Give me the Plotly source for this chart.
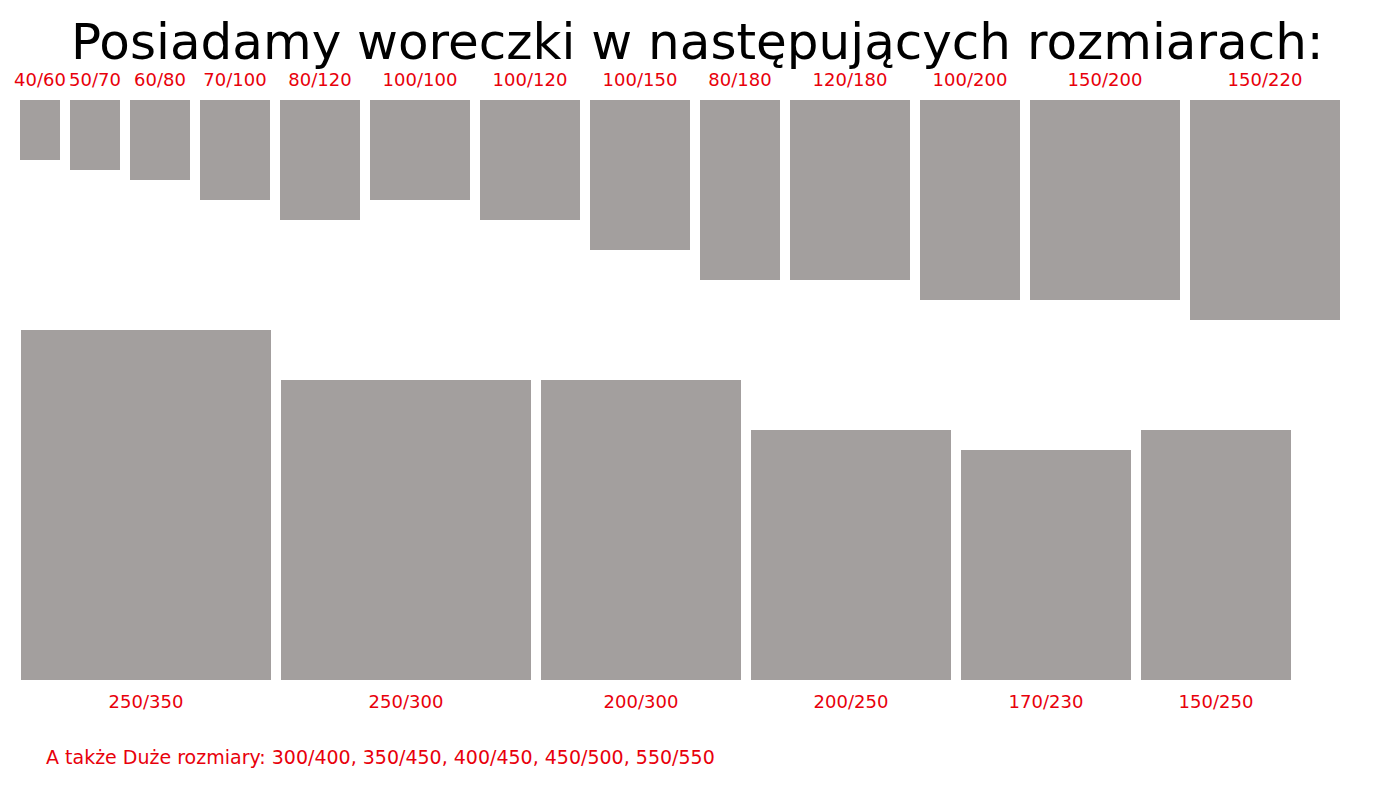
import plotly.graph_objects as go

title = "Posiadamy woreczki w następujących rozmiarach:"
row1_labels = ["40/60","50/70","60/80","70/100","80/120","100/100","100/120","100/150","80/180","120/180","100/200","150/200","150/220"]
row1_w = [40,50,60,70,80,100,100,100,80,120,100,150,150]
row1_h = [60,70,80,100,120,100,120,150,180,180,200,200,220]
row2_labels = ["250/350","250/300","200/300","200/250","170/230","150/250"]
row2_w = [250,250,200,200,170,150]
row2_h = [350,300,300,250,230,250]
footer = "A także Duże rozmiary: 300/400, 350/450, 400/450, 450/500, 550/550"

GAP = 10
GREY = "#a39f9e"
RED = "#e8000b"
FONT = "DejaVu Sans"

def centers(widths, start):
    out, x = [], start
    for w in widths:
        out.append(x + w / 2)
        x += w + GAP
    return out

c1 = centers(row1_w, 20)
c2 = centers(row2_w, 21)
TOP1 = 100
BOT2 = 680

fig = go.Figure()
fig.add_trace(go.Bar(x=c1, y=row1_h, width=row1_w, base=[TOP1]*len(row1_h),
                     marker=dict(color=GREY, line=dict(width=0)), hoverinfo="skip"))
fig.add_trace(go.Bar(x=c2, y=row2_h, width=row2_w, base=[BOT2 - h for h in row2_h],
                     marker=dict(color=GREY, line=dict(width=0)), hoverinfo="skip"))
fig.add_trace(go.Scatter(x=c1, y=[81]*len(c1), text=row1_labels, mode="text",
                         textfont=dict(color=RED, size=18, family=FONT), hoverinfo="skip"))
fig.add_trace(go.Scatter(x=c2, y=[703]*len(c2), text=row2_labels, mode="text",
                         textfont=dict(color=RED, size=18, family=FONT), hoverinfo="skip"))

fig.add_annotation(x=697, y=42, text=title, showarrow=False, xref="x", yref="y",
                   font=dict(size=50, color="black", family=FONT))
fig.add_annotation(x=44, y=757, text=footer, showarrow=False, xanchor="left",
                   font=dict(size=19, color=RED, family=FONT))

fig.update_layout(width=1400, height=800, margin=dict(l=0, r=0, t=0, b=0),
                  plot_bgcolor="white", paper_bgcolor="white", showlegend=False,
                  barmode="overlay",
                  xaxis=dict(range=[8, 1408], visible=False, fixedrange=True),
                  yaxis=dict(range=[808, 8], visible=False, fixedrange=True))
fig.write_html("out.html")
